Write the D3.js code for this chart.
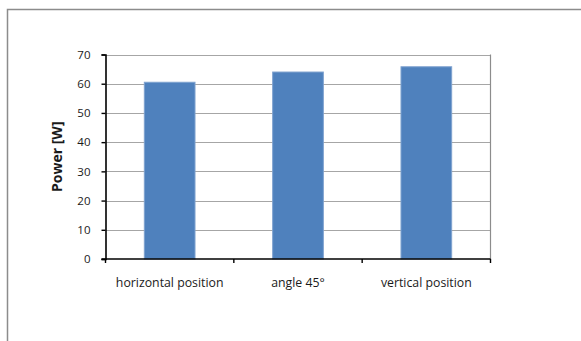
<!DOCTYPE html>
<html>
<head>
<meta charset="utf-8">
<script src="https://cdn.jsdelivr.net/npm/d3@7/dist/d3.min.js"></script>
<style>
  html, body { margin: 0; padding: 0; background: #fff; }
  svg { display: block; }
  text { font-family: "Open Sans", Lato, sans-serif; fill: #1a1a1a; }
</style>
</head>
<body>
<svg id="chart" width="581" height="341"></svg>
<script>
// Measured power for each mounting orientation
const categories = ["horizontal position", "angle 45°", "vertical position"];
const powerValues = [60.5, 64.0, 65.8];
const yTicks = [0, 10, 20, 30, 40, 50, 60, 70];
const yLabel = "Power [W]";

const svg = d3.select("#chart");
const plot = { left: 105.5, right: 490.5, top: 54.5, bottom: 259 };

// Chart-area frame (top and left edges inside the window)
svg.append("path")
  .attr("d", "M7.5,341 V9.5 H581")
  .attr("fill", "none")
  .attr("stroke", "#8c8c8c")
  .attr("stroke-width", 1.5);

const x = d3.scaleBand()
  .domain(categories)
  .range([plot.left, plot.right])
  .padding(0);

const y = d3.scaleLinear()
  .domain([0, 70])
  .range([plot.bottom, plot.top]);

// Horizontal gridlines
svg.append("g")
  .selectAll("line")
  .data(yTicks.filter(d => d > 0))
  .join("line")
  .attr("x1", plot.left)
  .attr("x2", plot.right)
  .attr("y1", d => Math.round(y(d)) + 0.5)
  .attr("y2", d => Math.round(y(d)) + 0.5)
  .attr("stroke", "#a6a6a6")
  .attr("stroke-width", 1.2);

// Plot-area right edge
svg.append("line")
  .attr("x1", plot.right).attr("x2", plot.right)
  .attr("y1", plot.top).attr("y2", plot.bottom)
  .attr("stroke", "#8c8c8c")
  .attr("stroke-width", 1.2);

// Bars
const barFrac = 0.395;
svg.append("g")
  .selectAll("rect")
  .data(categories)
  .join("rect")
  .attr("x", (d) => x(d) + x.bandwidth() * (1 - barFrac) / 2)
  .attr("width", x.bandwidth() * barFrac)
  .attr("y", (d, i) => y(powerValues[i]))
  .attr("height", (d, i) => y(0) - y(powerValues[i]))
  .attr("fill", "#4f81bd")
  .attr("stroke", "#7fa2cf")
  .attr("stroke-width", 1);

// Y axis
const yAxis = svg.append("g")
  .attr("transform", `translate(${plot.left},0)`)
  .call(d3.axisLeft(y).tickValues(yTicks).tickSize(4).tickPadding(11));
yAxis.select(".domain").attr("stroke", "#000").attr("stroke-width", 1.6);
yAxis.selectAll(".tick line").attr("stroke", "#000").attr("stroke-width", 1.4);
yAxis.selectAll(".tick text")
  .style("font-size", "11.5px")
  .attr("fill", "#1a1a1a");

// X axis with ticks at category boundaries
const xAxis = svg.append("g")
  .attr("transform", `translate(0,${plot.bottom})`);
xAxis.append("line")
  .attr("x1", plot.left - 4).attr("x2", plot.right)
  .attr("stroke", "#000").attr("stroke-width", 1.6);
xAxis.selectAll("line.tk")
  .data(categories.map(c => x(c)).concat([plot.right]))
  .join("line")
  .attr("class", "tk")
  .attr("x1", d => d).attr("x2", d => d)
  .attr("y1", 0).attr("y2", 4)
  .attr("stroke", "#000").attr("stroke-width", 1.4);
xAxis.selectAll("text")
  .data(categories)
  .join("text")
  .attr("x", d => x(d) + x.bandwidth() / 2)
  .attr("y", 27.5)
  .attr("text-anchor", "middle")
  .style("font-size", "12.3px")
  .text(d => d);

// Y axis title
svg.append("text")
  .attr("transform", `translate(61.5,${(plot.top + plot.bottom) / 2}) rotate(-90)`)
  .attr("text-anchor", "middle")
  .style("font-size", "14px")
  .style("font-weight", "bold")
  .text(yLabel);
</script>
</body>
</html>
